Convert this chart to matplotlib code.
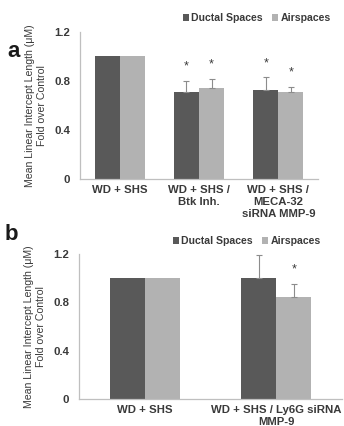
import matplotlib.pyplot as plt
import numpy as np

plt.rcParams['font.family'] = ['Liberation Sans', 'DejaVu Sans']
plt.rcParams['font.weight'] = 'bold'

series = ["Ductal Spaces", "Airspaces"]
colors = ["#595959", "#b2b2b2"]

# panel a
cats_a = ["WD + SHS", "WD + SHS /\nBtk Inh.", "WD + SHS /\nMECA-32\nsiRNA MMP-9"]
ductal_a = [1.0, 0.71, 0.73]
air_a = [1.0, 0.74, 0.71]
ductal_a_err = [0, 0.09, 0.10]
air_a_err = [0, 0.08, 0.04]
ductal_a_sig = [False, True, True]
air_a_sig = [False, True, True]

# panel b
cats_b = ["WD + SHS", "WD + SHS / Ly6G siRNA\nMMP-9"]
ductal_b = [1.0, 1.0]
air_b = [1.0, 0.84]
ductal_b_err = [0, 0.19]
air_b_err = [0, 0.11]
ductal_b_sig = [False, False]
air_b_sig = [False, True]

fig = plt.figure(figsize=(3.44, 4.26), dpi=100)
axis_col = "#bfbfbf"
txt_col = "#3a3a3a"


def draw(ax, cats, vals, errs, sigs, width, letter, legend_anchor):
    x = np.arange(len(cats))
    handles = []
    for i, (v, e, s) in enumerate(zip(vals, errs, sigs)):
        xs = x + (i - 0.5) * width
        b = ax.bar(xs, v, width, color=colors[i], label=series[i], zorder=2)
        handles.append(b)
        v = np.array(v)
        e = np.array(e)
        m = e > 0
        ax.errorbar(xs[m], v[m], yerr=[np.zeros(m.sum()), e[m]], fmt="none",
                    ecolor="#8c8c8c", elinewidth=0.8, capsize=2.5, capthick=0.8, zorder=3)
        for xi, top, sig in zip(xs, v + e, s):
            if sig:
                ax.annotate("*", (xi, top), xytext=(0, 6), textcoords="offset points",
                            ha="center", va="bottom", fontsize=9, color=txt_col,
                            fontweight="normal")
    ax.set_xlim(-0.5, len(cats) - 0.5)
    ax.set_ylim(0, 1.2)
    ax.set_yticks([0, 0.4, 0.8, 1.2])
    ax.set_yticklabels(["0", "0.4", "0.8", "1.2"])
    ax.set_xticks(x)
    ax.set_xticklabels(cats, linespacing=1.3)
    ax.tick_params(length=0, labelsize=8.2, colors=txt_col)
    ax.tick_params(axis="x", pad=4)
    ax.tick_params(axis="y", pad=7)
    for sp in ["top", "right"]:
        ax.spines[sp].set_visible(False)
    for sp in ["left", "bottom"]:
        ax.spines[sp].set_color(axis_col)
        ax.spines[sp].set_linewidth(0.9)
    ax.set_ylabel("Mean Linear Intercept Length (\u03bcM)\nFold over Control",
                  fontsize=7.6, color=txt_col, labelpad=5, linespacing=1.3)
    ax.legend(handles=handles, loc="center right", bbox_to_anchor=legend_anchor,
              bbox_transform=fig.transFigure, ncol=2, frameon=False, fontsize=7.6,
              handlelength=0.6, handleheight=0.6, handletextpad=0.2,
              columnspacing=0.9, labelcolor=txt_col, borderaxespad=0)
    fig.text(letter[0], letter[1], letter[2], fontsize=16, fontweight="bold",
             color="#1a1a1a", ha="left", va="baseline")


ax_a = fig.add_axes([80 / 344, 1 - 179 / 426, 238 / 344, 147 / 426])
draw(ax_a, cats_a, [ductal_a, air_a], [ductal_a_err, air_a_err],
     [ductal_a_sig, air_a_sig], 0.316, (7 / 344, 1 - 57 / 426, "a"),
     (335 / 344, 1 - 18 / 426))

ax_b = fig.add_axes([79 / 344, 1 - 399 / 426, 263 / 344, 145.3 / 426])
draw(ax_b, cats_b, [ductal_b, air_b], [ductal_b_err, air_b_err],
     [ductal_b_sig, air_b_sig], 0.266, (5 / 344, 1 - 240 / 426, "b"),
     (325 / 344, 1 - 241 / 426))

fig.savefig("out.png", dpi=100)
